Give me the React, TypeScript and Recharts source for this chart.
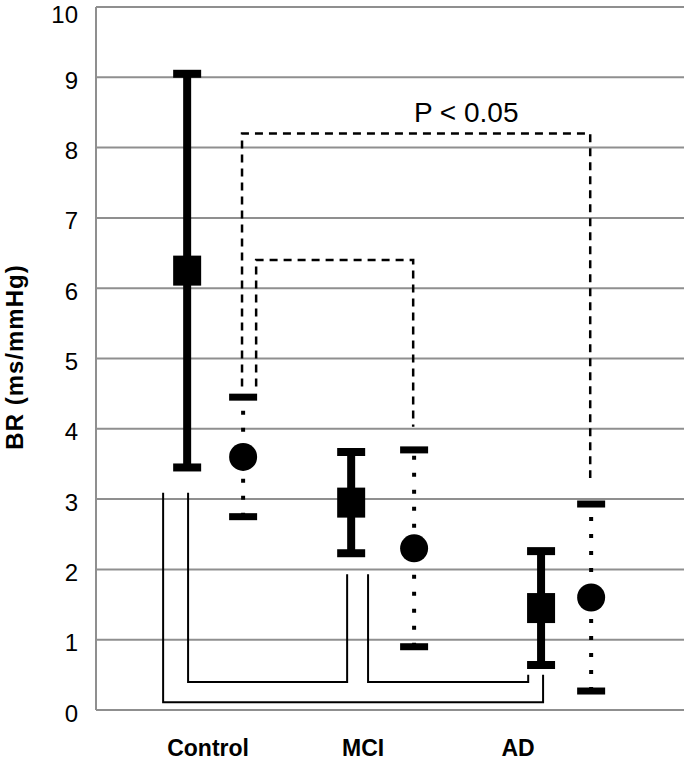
import { ComposedChart, Scatter, XAxis, YAxis, CartesianGrid, ErrorBar } from "recharts";

const groups = ["Control", "MCI", "AD"];
const groupTicks = [1, 2, 3];
const yTicks = [0, 1, 2, 3, 4, 5, 6, 7, 8, 9, 10];

// square markers, solid error bars
const squareX = [0.865, 1.923, 3.148];
const squareMean = [6.25, 2.95, 1.45];
const squareErr = [2.8, 0.72, 0.81];

// circle markers, dotted error bars
const circleX = [1.226, 2.329, 3.471];
const circleMean = [3.6, 2.3, 1.6];
const circleErr = [0.85, 1.4, 1.33];

// significance brackets
const solidCtlAD = [
  { x: 0.71, y: 3.09 },
  { x: 0.71, y: 0.11 },
  { x: 3.161, y: 0.11 },
  { x: 3.161, y: 0.5 },
];
const solidCtlMCI = [
  { x: 0.871, y: 3.09 },
  { x: 0.871, y: 0.4 },
  { x: 1.897, y: 0.4 },
  { x: 1.897, y: 1.93 },
];
const solidMCIAD = [
  { x: 2.032, y: 1.93 },
  { x: 2.032, y: 0.4 },
  { x: 3.065, y: 0.4 },
  { x: 3.065, y: 0.5 },
];
const dashCtlAD = [
  { x: 1.219, y: 4.6 },
  { x: 1.219, y: 8.2 },
  { x: 3.465, y: 8.2 },
  { x: 3.465, y: 3.3 },
];
const dashCtlMCI = [
  { x: 1.31, y: 4.6 },
  { x: 1.31, y: 6.4 },
  { x: 2.323, y: 6.4 },
  { x: 2.323, y: 4.03 },
];
const pNote = [{ x: 2.665, y: 8.5, text: "P < 0.05" }];

const squares = squareX.map((x, i) => ({ x, y: squareMean[i], err: squareErr[i] }));
const circles = circleX.map((x, i) => ({ x, y: circleMean[i], err: circleErr[i] }));
const circleCaps = circleX.flatMap((x, i) => [
  { x, y: circleMean[i] + circleErr[i] },
  { x, y: circleMean[i] - circleErr[i] },
]);

const FONT = "'Liberation Sans', Arial, sans-serif";
const empty = () => <g />;

const YTick = (p: any) => (
  <text x={p.x} y={p.y} dx={-6} dy={p.payload.value === 10 ? 5 : 3} textAnchor="end" dominantBaseline="central" fontSize={24} fontFamily={FONT} fill="#000">
    {p.payload.value}
  </text>
);

export default function App() {
  return (
    <div style={{ position: "relative", width: 685, height: 760, fontFamily: FONT }}>
      <style>{"body{margin:0}"}</style>
      <ComposedChart width={685} height={760} margin={{ top: 7, right: 1, bottom: 0, left: 0 }}>
        <CartesianGrid vertical={false} stroke="#8f8f8f" strokeWidth={2} />
        <XAxis
          type="number"
          dataKey="x"
          domain={[0.277, 4.07]}
          ticks={groupTicks}
          tickFormatter={(v: number) => groups[groupTicks.indexOf(v)] ?? ""}
          axisLine={false}
          tickLine={false}
          tickSize={6}
          tickMargin={24}
          height={50}
          tick={{ fontSize: 23, fontWeight: "bold", fill: "#000", fontFamily: FONT }}
          allowDataOverflow
        />
        <YAxis
          type="number"
          dataKey="y"
          domain={[0, 10]}
          ticks={yTicks}
          width={96}
          axisLine={{ stroke: "#8f8f8f", strokeWidth: 2 }}
          tickLine={false}
          tickSize={6}
          tickMargin={6}
          tick={YTick}
          allowDataOverflow
        />
        <Scatter data={solidCtlAD} line={{ stroke: "#000", strokeWidth: 2 }} shape={empty} isAnimationActive={false} />
        <Scatter data={solidCtlMCI} line={{ stroke: "#000", strokeWidth: 2 }} shape={empty} isAnimationActive={false} />
        <Scatter data={solidMCIAD} line={{ stroke: "#000", strokeWidth: 2 }} shape={empty} isAnimationActive={false} />
        <Scatter data={dashCtlAD} line={{ stroke: "#000", strokeWidth: 2.5, strokeDasharray: "8 6" }} shape={empty} isAnimationActive={false} />
        <Scatter data={dashCtlMCI} line={{ stroke: "#000", strokeWidth: 2.5, strokeDasharray: "8 6" }} shape={empty} isAnimationActive={false} />
        <Scatter
          data={pNote}
          isAnimationActive={false}
          shape={(p: any) => (
            <text x={p.cx} y={p.cy} textAnchor="middle" dominantBaseline="central" fontSize={28} fontFamily={FONT} fill="#000">
              {p.payload.text}
            </text>
          )}
        />
        <Scatter
          data={squares}
          isAnimationActive={false}
          shape={(p: any) => <rect x={p.cx - 14} y={p.cy - 15} width={28} height={30} fill="#000" />}
        >
          <ErrorBar dataKey="err" direction="y" width={14} stroke="#000" strokeWidth={8} isAnimationActive={false} />
        </Scatter>
        <Scatter
          data={circles}
          isAnimationActive={false}
          shape={(p: any) => <circle cx={p.cx} cy={p.cy} r={14} fill="#000" />}
        >
          <ErrorBar dataKey="err" direction="y" width={0} stroke="#000" strokeWidth={4} strokeDasharray="4 13" isAnimationActive={false} />
        </Scatter>
        <Scatter
          data={circleCaps}
          isAnimationActive={false}
          shape={(p: any) => <rect x={p.cx - 14} y={p.cy - 3.5} width={28} height={7} fill="#000" />}
        />
      </ComposedChart>
      <div
        style={{
          position: "absolute",
          left: 15,
          top: 357,
          transform: "translate(-50%, -50%) rotate(-90deg)",
          whiteSpace: "nowrap",
          fontSize: 24,
          fontWeight: "bold",
          letterSpacing: 1,
          color: "#000",
        }}
      >
        BR (ms/mmHg)
      </div>
    </div>
  );
}
